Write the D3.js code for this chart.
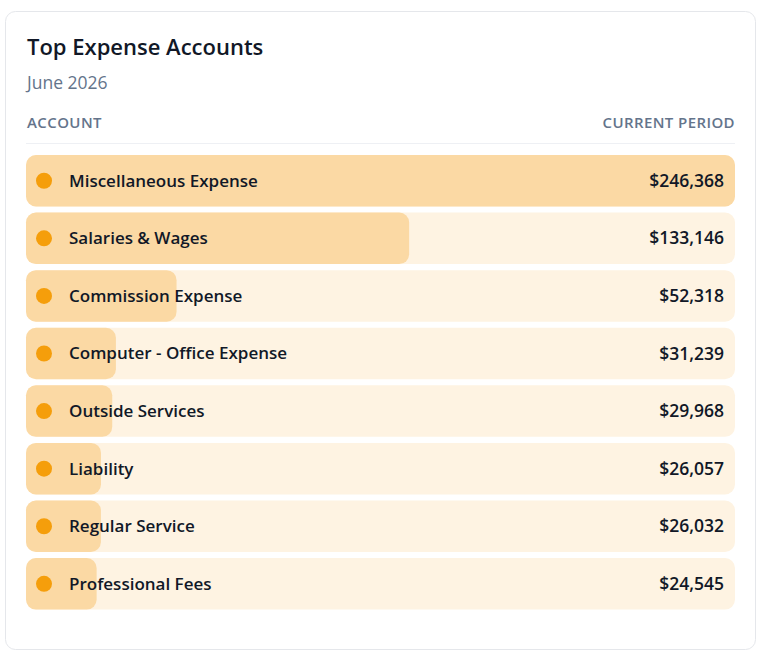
<!DOCTYPE html>
<html>
<head>
<meta charset="utf-8">
<script src="https://cdn.jsdelivr.net/npm/d3@7"></script>
<style>
  html, body { margin: 0; padding: 0; background: #ffffff; }
  svg { display: block; font-family: "Open Sans", "Noto Sans", sans-serif; }
</style>
</head>
<body>
<svg id="chart" width="782" height="659"></svg>
<script>
const accounts = ["Miscellaneous Expense", "Salaries & Wages", "Commission Expense", "Computer - Office Expense", "Outside Services", "Liability", "Regular Service", "Professional Fees"];
const amounts = [246368, 133146, 52318, 31239, 29968, 26057, 26032, 24545];
const titleText = "Top Expense Accounts";
const subtitleText = "June 2026";
const headerLeft = "ACCOUNT";
const headerRight = "CURRENT PERIOD";

const svg = d3.select("#chart");
const left = 26, right = 735;

svg.append("rect").attr("x", 5.5).attr("y", 11.5).attr("width", 750).attr("height", 638)
  .attr("rx", 10).attr("fill", "#fff").attr("stroke", "#e5e7eb").attr("stroke-width", 1);

svg.append("text").attr("x", 27).attr("y", 55).text(titleText)
  .attr("font-size", 22).attr("font-weight", 600).attr("fill", "#111827");
svg.append("text").attr("x", 27).attr("y", 89).text(subtitleText)
  .attr("font-size", 17.5).attr("fill", "#64748b");
svg.append("text").attr("x", 27).attr("y", 128).text(headerLeft)
  .attr("font-size", 15).attr("font-weight", 600).attr("fill", "#64748b").attr("letter-spacing", 0.4);
svg.append("text").attr("x", right).attr("y", 128).attr("text-anchor", "end").text(headerRight)
  .attr("font-size", 15).attr("font-weight", 600).attr("fill", "#64748b").attr("letter-spacing", 0.4);
svg.append("line").attr("x1", left).attr("x2", right).attr("y1", 143.5).attr("y2", 143.5)
  .attr("stroke", "#eef0f4").attr("stroke-width", 1);

const y = d3.scaleBand().domain(accounts).range([155, 609.6]).paddingInner(0.105).paddingOuter(0);
const x = d3.scaleLinear().domain([0, d3.max(amounts)]).range([left, right]);

const data = accounts.map((a, i) => ({ name: a, value: amounts[i] }));
const rows = svg.selectAll("g.row").data(data).join("g").attr("class", "row");

rows.append("rect").attr("x", x(0)).attr("y", d => y(d.name))
  .attr("width", x(d3.max(amounts)) - x(0)).attr("height", y.bandwidth())
  .attr("rx", 10).attr("fill", "#fef3e2");
rows.append("rect").attr("x", x(0)).attr("y", d => y(d.name))
  .attr("width", d => x(d.value) - x(0)).attr("height", y.bandwidth())
  .attr("rx", 10).attr("fill", "#fbd9a4");
rows.append("circle").attr("cx", 44).attr("cy", d => y(d.name) + y.bandwidth() / 2)
  .attr("r", 8).attr("fill", "#f59e0b");
rows.append("text").attr("x", 69).attr("y", d => y(d.name) + y.bandwidth() / 2)
  .attr("dy", "0.35em").text(d => d.name)
  .attr("font-size", 17).attr("font-weight", 600).attr("fill", "#111827");
const fmt = d3.format("$,.0f");
rows.append("text").attr("x", 724).attr("y", d => y(d.name) + y.bandwidth() / 2)
  .attr("dy", "0.35em").attr("text-anchor", "end").text(d => fmt(d.value))
  .attr("font-size", 17.5).attr("font-weight", 600).attr("fill", "#111827");
</script>
</body>
</html>
